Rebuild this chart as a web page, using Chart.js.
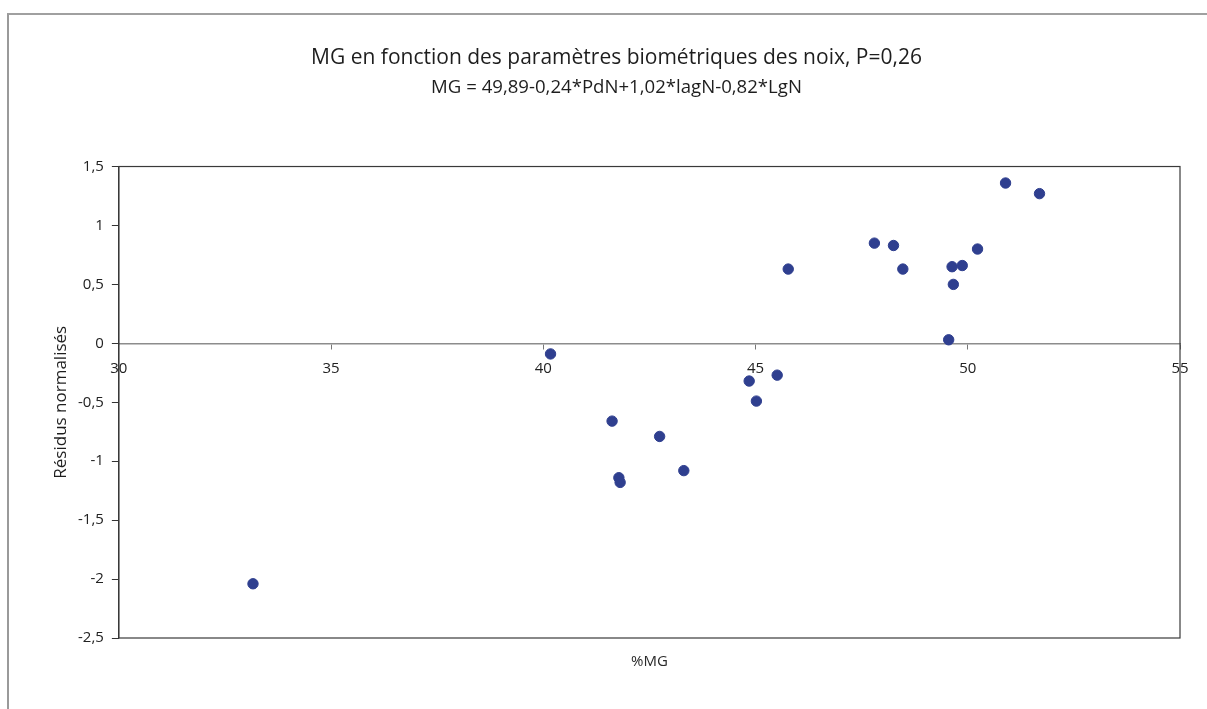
<!DOCTYPE html>
<html>
<head>
<meta charset="utf-8">
<script src="https://cdn.jsdelivr.net/npm/chart.js@4"></script>
<style>
  html, body { margin: 0; padding: 0; background: #fff; }
  #wrap { position: relative; width: 1207px; height: 709px; }
  #frame { position: absolute; left: 7px; top: 13px; right: 0; bottom: 0;
           border-left: 2px solid #9a9a9a; border-top: 2px solid #a0a0a0; pointer-events: none; }
</style>
</head>
<body>
<div id="wrap">
  <canvas id="my-chart" width="1207" height="709"></canvas>
  <div id="frame"></div>
</div>
<script>
// %MG (x) and normalised residuals (y)
const mgValues = [
  33.16, 40.17, 41.62, 41.78, 41.81, 42.74, 43.31, 44.85, 45.02, 45.51, 45.77,
  47.80, 48.25, 48.47, 49.55, 49.63, 49.66, 49.87, 50.23, 50.89, 51.69
];
const residus = [
  -2.04, -0.09, -0.66, -1.14, -1.18, -0.79, -1.08, -0.32, -0.49, -0.27, 0.63,
  0.85, 0.83, 0.63, 0.03, 0.65, 0.50, 0.66, 0.80, 1.36, 1.27
];

const titleText = "MG en fonction des paramètres biométriques des noix, P=0,26";
const subtitleText = "MG = 49,89-0,24*PdN+1,02*lagN-0,82*LgN";
const xRange = [30, 55];
const yRange = [-2.5, 1.5];

const fontFamily = "'Open Sans', 'Noto Sans', sans-serif";
const comma = (v) => String(v).replace(".", ",");

// box around the plot area, like the Excel chart
const plotFrame = {
  id: "plotFrame",
  afterDraw(chart) {
    const { ctx, chartArea: a } = chart;
    ctx.save();
    ctx.strokeStyle = "#3a3a3a";
    ctx.lineWidth = 1.2;
    ctx.strokeRect(a.left, a.top, a.right - a.left, a.bottom - a.top);
    ctx.restore();
  },
};

const chartConfig = {
  type: "scatter",
  data: {
    datasets: [
      {
        label: "Résidus",
        data: mgValues.map((x, i) => ({ x: x, y: residus[i] })),
        backgroundColor: "#2f3f8f",
        borderColor: "#2f3f8f",
        pointRadius: 5.2,
        pointHoverRadius: 5.2,
      },
    ],
  },
  options: {
    responsive: false,
    animation: false,
    layout: { padding: { left: 53, right: 27, top: 0, bottom: 38 } },
    plugins: {
      legend: { display: false },
      tooltip: { enabled: false },
      title: {
        display: true,
        text: titleText,
        color: "#1e1e1e",
        font: { family: fontFamily, size: 21, weight: 500, lineHeight: 1.2 },
        padding: { top: 45, bottom: 6 },
      },
      subtitle: {
        display: true,
        text: subtitleText,
        color: "#1e1e1e",
        font: { family: fontFamily, size: 18.6, weight: 500, lineHeight: 1.2 },
        padding: { top: 0, bottom: 68 },
      },
    },
    scales: {
      x: {
        type: "linear",
        position: "bottom",
        min: xRange[0],
        max: xRange[1],
        ticks: { display: false },
        grid: { display: false },
        border: { display: false },
        title: {
          display: true,
          text: "%MG",
          color: "#2a2a2a",
          font: { family: fontFamily, size: 15 },
          padding: { top: 7, bottom: 0 },
        },
      },
      // axis drawn through y = 0 with the tick labels
      xZero: {
        type: "linear",
        position: { y: 0 },
        min: xRange[0],
        max: xRange[1],
        ticks: {
          stepSize: 5,
          color: "#222",
          font: { family: fontFamily, size: 15 },
          padding: 11,
        },
        grid: { drawOnChartArea: false, tickLength: 5, color: "#777" },
        border: { color: "#8c8c8c", width: 1.5 },
      },
      y: {
        type: "linear",
        min: yRange[0],
        max: yRange[1],
        ticks: {
          stepSize: 0.5,
          color: "#222",
          font: { family: fontFamily, size: 15 },
          padding: 8,
          callback: comma,
        },
        grid: { drawOnChartArea: false, tickLength: 7, color: "#333" },
        border: { color: "#333", width: 1.2 },
        title: {
          display: true,
          text: "Résidus normalisés",
          color: "#1e1e1e",
          font: { family: fontFamily, size: 17, weight: 500, lineHeight: 1 },
          padding: { top: 0, bottom: 0 },
        },
      },
    },
  },
  plugins: [plotFrame],
};

const myChart = new Chart(document.getElementById("my-chart"), chartConfig);
</script>
</body>
</html>
